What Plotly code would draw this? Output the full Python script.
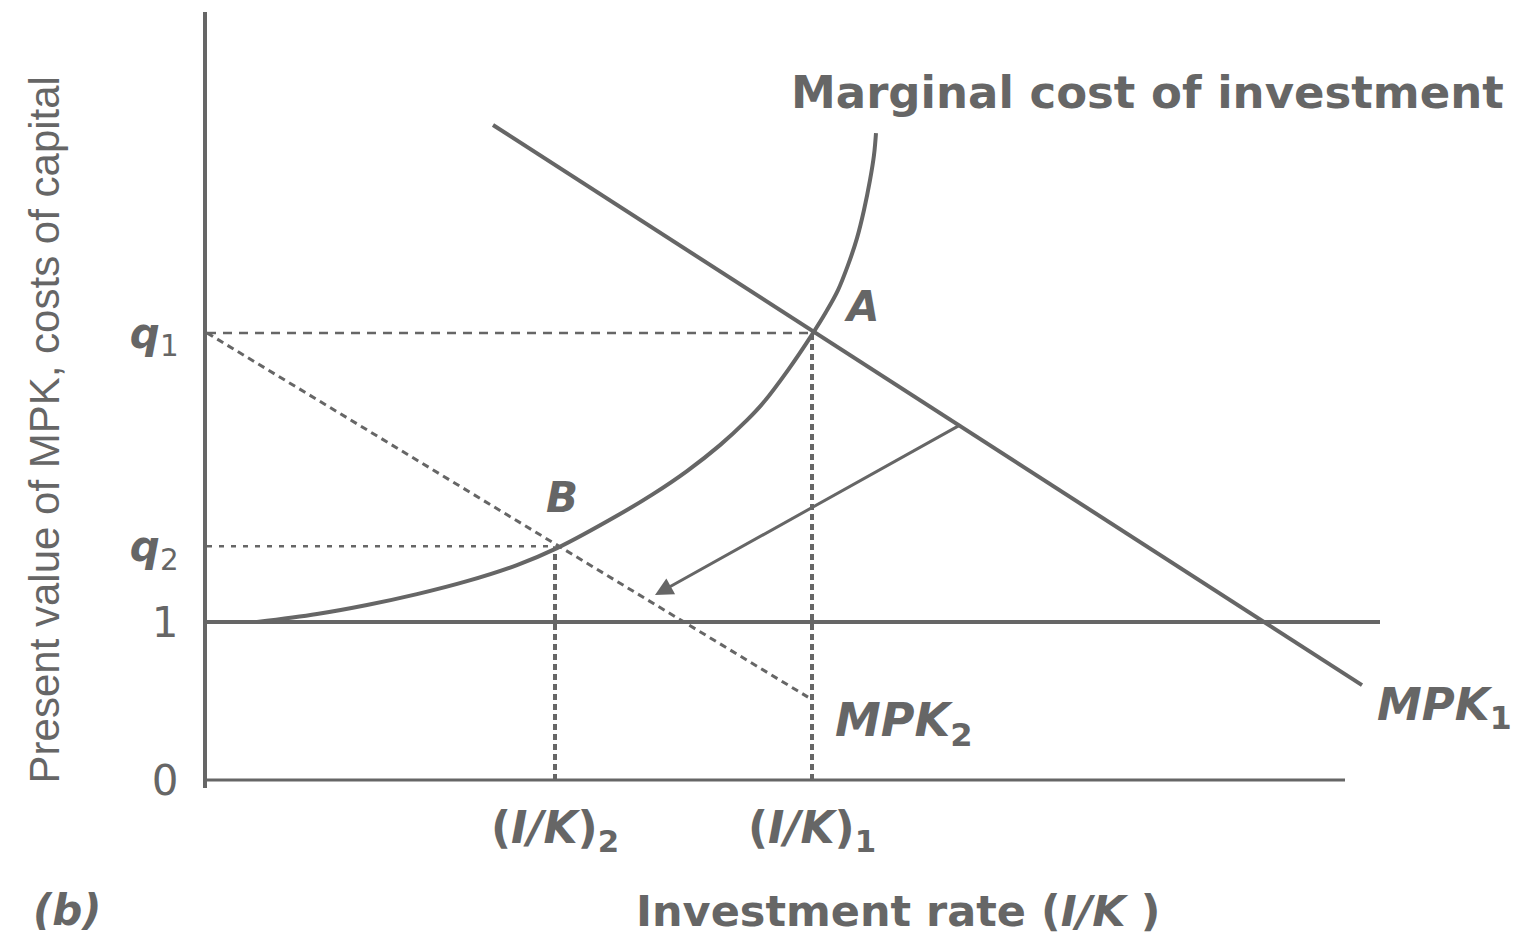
import plotly.graph_objects as go

# values in chart units (x: investment rate, y: value / cost)
q1 = 2.83
q2 = 1.48
ik1 = 6.05
ik2 = 3.48

# marginal cost of investment curve
mc_x = [0.50, 1.10, 1.60, 2.10, 2.60, 3.10, 3.50, 4.13, 4.46, 4.80, 5.13, 5.40, 5.56, 5.81,
        6.06, 6.19, 6.31, 6.41, 6.50, 6.57, 6.63, 6.67, 6.69]
mc_y = [1.000, 1.051, 1.108, 1.177, 1.259, 1.361, 1.468, 1.684, 1.810, 1.956, 2.120, 2.278, 2.386, 2.595,
        2.829, 2.962, 3.101, 3.259, 3.430, 3.608, 3.797, 3.956, 4.095]

mpk1_x = [2.86, 11.55]
mpk1_y = [4.146, 0.601]
mpk2_x = [0.0, 6.01]
mpk2_y = [q1, 0.525]
one_x = [0.0, 11.73]
one_y = [1.0, 1.0]
xaxis_x = [0.0, 11.38]

y_ticks = [0, 1, q2, q1]
y_labels = ["0", "1", "<b><i>q</i></b><sub>2</sub>", "<b><i>q</i></b><sub>1</sub>"]
x_ticks = [ik2, ik1]
x_labels = ["<b>(<i>I/K</i>)</b><sub><b>2</b></sub>", "<b>(<i>I/K</i>)</b><sub><b>1</b></sub>"]

GREY = "#666666"
SANS = "Liberation Sans"
WIDE = "DejaVu Sans"

fig = go.Figure()

def add_line(x, y, width, dash="solid", shape="linear"):
    fig.add_trace(go.Scatter(x=x, y=y, mode="lines", line=dict(color=GREY, width=width, dash=dash, shape=shape),
                             hoverinfo="skip", showlegend=False))

# guide lines
add_line([0, ik1], [q1, q1], 2.5, "9px,7px")
add_line([0, ik2], [q2, q2], 2.5, "5px,7px")
add_line([ik2, ik2], [0, q2], 4, "6px,4px")
add_line([ik1, ik1], [0, q1], 4, "6px,4px")
add_line(mpk2_x, mpk2_y, 3, "7px,5px")
# main lines
add_line(xaxis_x, [0, 0], 3)
add_line(one_x, one_y, 4)
add_line(mpk1_x, mpk1_y, 4)
add_line(mc_x, mc_y, 4, shape="spline")

def label(text, x, y, size=40, family=WIDE, xanchor="center", ref="x", angle=0):
    fig.add_annotation(x=x, y=y, xref=ref if ref == "paper" else "x", yref=ref if ref == "paper" else "y",
                       text=text, showarrow=False, textangle=angle,
                       xanchor=xanchor, yanchor="middle", font=dict(family=family, size=size, color=GREY))

label("<b>Marginal cost of investment</b>", 9.40, 4.35, 45)
label("<b><i>A</i></b>", 6.55, 3.0, 42)
label("<b><i>B</i></b>", 3.55, 1.79, 42)
label("<b><i>MPK</i></b><sub><b>2</b></sub>", 6.26, 0.36, 46, xanchor="left")
label("<b><i>MPK</i></b><sub><b>1</b></sub>", 11.68, 0.46, 45, xanchor="left")
# outer titles in paper coordinates
label("Present value of MPK, costs of capital", -0.123, 0.461, 42, SANS, ref="paper", angle=-90)
label("<b>Investment rate (<i>I/K</i> )</b>", 0.522, -0.158, 43, WIDE, ref="paper")
label("<b><i>(b)</i></b>", -0.106, -0.158, 42, WIDE, ref="paper")

# arrow from MPK1 shift
fig.add_annotation(x=4.48, y=1.171, ax=7.53, ay=2.247, xref="x", yref="y", axref="x", ayref="y",
                   text="", showarrow=True, arrowhead=2, arrowsize=1.2, arrowwidth=3, arrowcolor=GREY)

fig.update_layout(
    width=1523, height=941,
    margin=dict(l=199, r=0, t=4, b=161),
    paper_bgcolor="white", plot_bgcolor="white",
    xaxis=dict(range=[0, 13.24], showgrid=False, zeroline=False, showline=False,
               tickvals=x_ticks, ticktext=x_labels, ticks="", ticklabelstandoff=10,
               tickfont=dict(family=WIDE, size=44, color=GREY)),
    yaxis=dict(range=[-0.05, 4.861], showgrid=False, zeroline=False, showline=True,
               linecolor=GREY, linewidth=4,
               tickvals=y_ticks, ticktext=y_labels, ticks="", ticklabelstandoff=16,
               tickfont=dict(family=WIDE, size=42, color=GREY)),
)

fig.write_html("out.html")
